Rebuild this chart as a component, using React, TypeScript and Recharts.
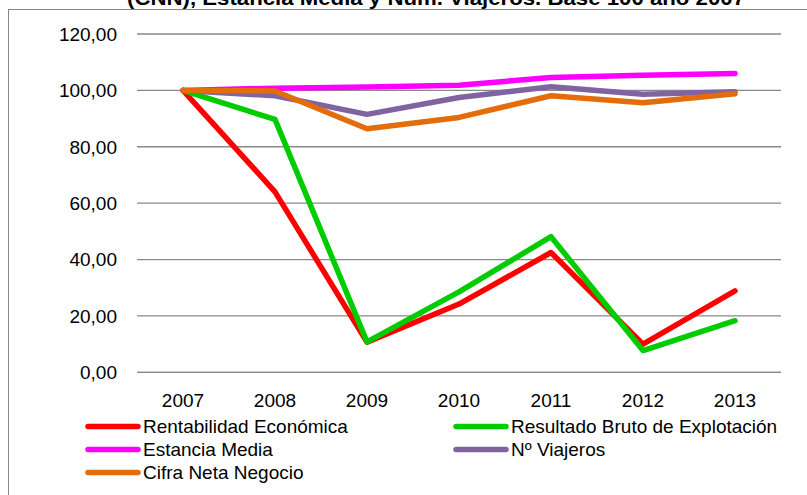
import React from 'react';
import { LineChart, Line, XAxis, YAxis, CartesianGrid } from 'recharts';

const years = ['2007', '2008', '2009', '2010', '2011', '2012', '2013'];
const rentabilidad = [100, 64, 10.7, 24.2, 42.5, 10.0, 28.9];
const resultado = [100, 89.7, 10.8, 28.5, 48.1, 7.7, 18.3];
const estancia = [100, 100.8, 101.2, 101.8, 104.6, 105.4, 106.0];
const viajeros = [100, 98.1, 91.5, 97.5, 101.3, 98.6, 99.5];
const cifra = [100, 99.8, 86.4, 90.4, 98.1, 95.6, 98.8];
const yTicks = [0, 20, 40, 60, 80, 100, 120];
const titleText = '(CNN), Estancia Media y Núm. Viajeros. Base 100 año 2007';

const series = [
  { key: 'rentabilidad', name: 'Rentabilidad Económica', color: '#FF0000', values: rentabilidad },
  { key: 'resultado', name: 'Resultado Bruto de Explotación', color: '#00CC00', values: resultado },
  { key: 'estancia', name: 'Estancia Media', color: '#FF00FF', values: estancia },
  { key: 'viajeros', name: 'Nº Viajeros', color: '#8064A2', values: viajeros },
  { key: 'cifra', name: 'Cifra Neta Negocio', color: '#E46C0A', values: cifra },
];

const data = years.map((year, i) => {
  const row: Record<string, string | number> = { year };
  series.forEach((s) => {
    row[s.key] = s.values[i];
  });
  return row;
});

const FONT = '"Liberation Sans", Arial, sans-serif';
const fmt = (v: number) => v.toFixed(2).replace('.', ',');

export default function App() {
  return (
    <div style={{ position: 'absolute', left: 0, top: 0, width: 807, height: 495, overflow: 'hidden', background: '#fff', fontFamily: FONT }}>
      <div style={{ position: 'absolute', left: 8, top: 9, width: 830, height: 520, border: '1px solid #868686', boxSizing: 'border-box' }} />
      <svg width={807} height={20} style={{ position: 'absolute', left: 0, top: 0 }}>
        <text x={127} y={5} fontFamily={FONT} fontWeight="bold" fontSize={21} fill="#000" textLength={618} lengthAdjust="spacingAndGlyphs">
          {titleText}
        </text>
      </svg>
      <div style={{ position: 'absolute', left: 0, top: 0 }}>
        <LineChart width={807} height={495} data={data} margin={{ top: 34, right: 26, bottom: 92.7, left: 0 }}>
          <CartesianGrid vertical={false} stroke="#898989" strokeWidth={1.3} />
          <XAxis
            dataKey="year"
            height={30}
            padding={{ left: 46, right: 46 }}
            axisLine={{ stroke: '#898989', strokeWidth: 1.3 }}
            tickLine={false}
            tickSize={0}
            tickMargin={21}
            tick={{ fill: '#000', fontSize: 19, fontFamily: FONT }}
            interval={0}
          />
          <YAxis
            width={137}
            domain={[0, 120]}
            ticks={yTicks}
            axisLine={false}
            tickLine={false}
            tickSize={0}
            tickMargin={20}
            tickFormatter={fmt}
            tick={{ fill: '#000', fontSize: 19, fontFamily: FONT }}
          />
          {series.map((s) => (
            <Line
              key={s.key}
              type="linear"
              dataKey={s.key}
              name={s.name}
              stroke={s.color}
              strokeWidth={5.5}
              strokeLinejoin="round"
              strokeLinecap="round"
              dot={false}
              activeDot={false}
              isAnimationActive={false}
            />
          ))}
        </LineChart>
      </div>
      {series.map((s, i) => {
        const col = i % 2;
        const row = Math.floor(i / 2);
        const left = col === 0 ? 85 : 453;
        const top = 414.7 + row * 23;
        return (
          <div key={s.key} style={{ position: 'absolute', left, top, height: 23, lineHeight: '23px', fontSize: 19, fontFamily: FONT, color: '#000', whiteSpace: 'nowrap', display: 'flex', alignItems: 'center' }}>
            <svg width={58} height={23} style={{ display: 'block' }}>
              <line x1={3} y1={11.5} x2={53} y2={11.5} stroke={s.color} strokeWidth={5.5} strokeLinecap="round" />
            </svg>
            <span>{s.name}</span>
          </div>
        );
      })}
    </div>
  );
}
